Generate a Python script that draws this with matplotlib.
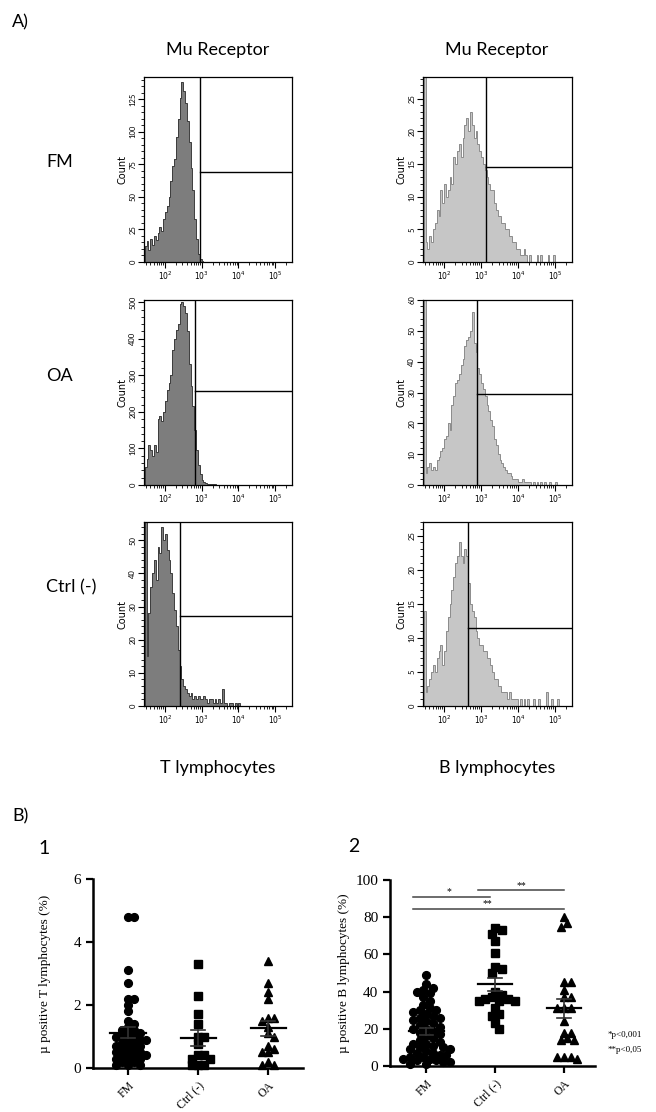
import numpy as np
import matplotlib
matplotlib.use('Agg')
import matplotlib.pyplot as plt
from matplotlib.ticker import MultipleLocator, LogLocator, NullFormatter, FixedLocator, FixedFormatter

W, H = 656, 1112

# ---- flow histograms: counts per 0.05-decade bin, first bin starts at 10^1.45
bin_start = 1.45
bin_width = 0.05

t_fm = [12, 16, 9, 18, 13, 20, 17, 22, 27, 24, 33, 38, 43, 50, 62, 74, 79, 96, 110, 126,
        138, 131, 122, 108, 92, 72, 55, 33, 18, 6, 2, 1, 0]
b_fm = [40, 3, 2, 4, 3, 5, 6, 8, 7, 11, 9, 12, 10, 11, 13, 12, 16, 15, 17, 18,
        16, 19, 21, 22, 20, 23, 21, 19, 20, 18, 17, 16, 15, 14, 13, 12, 11, 11, 9, 8,
        7, 7, 6, 6, 5, 5, 4, 4, 3, 3, 2, 2, 1, 1, 2, 1, 0, 1, 0, 0,
        0, 1, 0, 1, 0, 0, 0, 1, 0, 0, 1]
t_oa = [50, 70, 110, 95, 80, 110, 90, 180, 190, 175, 200, 230, 260, 280, 300, 370, 400, 425, 440, 495,
        500, 490, 470, 420, 330, 270, 215, 150, 95, 55, 30, 15, 8, 5, 4, 3, 2, 3, 2, 1, 0]
b_oa = [80, 4, 6, 7, 5, 6, 5, 8, 9, 11, 12, 15, 16, 20, 18, 26, 29, 33, 34, 36,
        39, 41, 45, 47, 48, 50, 56, 46, 43, 38, 36, 33, 31, 29, 26, 24, 21, 19, 15, 13,
        10, 8, 7, 6, 5, 4, 4, 3, 2, 2, 2, 1, 1, 2, 1, 1, 1, 1, 0, 1,
        0, 1, 0, 1, 0, 1, 0, 0, 1, 0, 0, 1]
t_ctrl = [60, 15, 28, 36, 40, 44, 38, 48, 46, 54, 50, 52, 47, 44, 40, 34, 29, 24, 17, 12,
          8, 6, 5, 4, 3, 4, 2, 3, 2, 3, 2, 2, 3, 2, 1, 2, 2, 1, 2, 1,
          2, 1, 5, 1, 1, 0, 1, 1, 0, 1, 0, 1]
b_ctrl = [14, 2, 3, 4, 5, 6, 5, 7, 8, 9, 6, 8, 11, 13, 15, 17, 19, 21, 22, 24,
          22, 21, 23, 22, 18, 15, 14, 13, 11, 10, 9, 9, 8, 8, 7, 7, 6, 5, 4, 4,
          3, 3, 2, 2, 2, 1, 2, 1, 1, 1, 1, 0, 1, 0, 1, 0, 1, 0, 0, 1,
          0, 0, 1, 0, 0, 0, 2, 0, 0, 1, 0, 0, 1]

# gates: (vertical gate position in log10 units, horizontal gate count)
gate_t_fm, gate_b_fm = (2.95, 69), (3.14, 14.5)
gate_t_oa, gate_b_oa = (2.82, 257), (2.90, 29.5)
gate_t_ctrl, gate_b_ctrl = (2.40, 27), (2.66, 11.5)

# y-axis top, major step, minor step
ymax_t = [142, 506, 55.5]
ymax_b = [28.3, 60, 27]
ystep_t = [(25, 5), (100, 20), (10, 2)]
ystep_b = [(5, 1), (10, 2), (5, 1)]

row_names = ['FM', 'OA', 'Ctrl (-)']

# ---- percentage data (panel B)
groups = ['FM', 'Ctrl (-)', 'OA']
t_pos_fm = [4.8, 4.8, 3.1, 2.7, 2.2, 2.2, 2.0, 1.8, 1.5, 1.4, 1.3, 1.2, 1.2, 1.1, 1.1, 1.0,
            1.0, 1.0, 0.9, 0.9, 0.9, 0.8, 0.8, 0.7, 0.7, 0.7, 0.6, 0.6, 0.5, 0.5, 0.5,
            0.4, 0.4, 0.4, 0.3, 0.3, 0.3, 0.2, 0.2, 0.1, 0.1, 0.1]
t_pos_ctrl = [3.3, 2.3, 1.7, 1.4, 1.0, 1.0, 0.75, 0.4, 0.4, 0.3, 0.3, 0.1, 0.1, 0.1]
t_pos_oa = [3.4, 2.7, 2.4, 2.2, 1.6, 1.5, 1.6, 1.3, 1.1, 1.0, 0.7, 0.6, 0.5, 0.5,
            0.2, 0.1, 0.1]
b_pos_fm = [49, 44, 42, 41, 40, 39, 37, 35, 33, 31, 30, 30, 29, 28, 27, 26, 26, 25, 24, 23,
            22, 21, 20, 20, 19, 18, 17, 16, 15, 14, 13, 12, 12, 11, 10, 10, 9, 9, 8, 7,
            7, 6, 6, 5, 5, 4, 4, 3, 3, 2, 2, 1, 1]
b_pos_ctrl = [74, 73, 71, 67, 61, 53, 52, 50, 40, 38, 37, 36, 36, 35, 35, 35, 31, 28, 27, 23, 20]
b_pos_oa = [80, 77, 75, 45, 45, 41, 37, 37, 31, 31, 31, 24, 18, 18, 15, 14, 14, 5, 5, 5, 4]

# significance brackets: (line start, line end, height, label, label x)
b_sig = [(-0.2, 0.93, 91, '*', 0.32), (0.75, 2.0, 94.5, '**', 1.38), (-0.2, 2.0, 84.5, '**', 0.88)]


def box(x0, y0, x1, y1):
    return [x0 / W, 1 - y1 / H, (x1 - x0) / W, (y1 - y0) / H]


def flow_hist(ax, counts, gate, ymax, steps, fill, edge):
    edges = 10 ** (bin_start + bin_width * np.arange(len(counts) + 1))
    ax.stairs(counts, edges, fill=True, color=fill, lw=0)
    ax.stairs(counts, edges, color=edge, lw=0.7)
    xlo, xhi = 10 ** 1.43, 10 ** 5.46
    ax.set_xscale('log')
    ax.set_xlim(xlo, xhi)
    ax.set_ylim(0, ymax)
    gx = 10 ** gate[0]
    ax.plot([gx, gx], [0, ymax], color='black', lw=1)
    ax.plot([gx, xhi], [gate[1], gate[1]], color='black', lw=1)
    ax.xaxis.set_major_locator(FixedLocator([1e2, 1e3, 1e4, 1e5]))
    ax.xaxis.set_major_formatter(FixedFormatter(['$10^2$', '$10^3$', '$10^4$', '$10^5$']))
    ax.xaxis.set_minor_locator(LogLocator(base=10, subs=np.arange(2, 10)))
    ax.xaxis.set_minor_formatter(NullFormatter())
    ax.yaxis.set_major_locator(MultipleLocator(steps[0]))
    ax.yaxis.set_minor_locator(MultipleLocator(steps[1]))
    ax.tick_params(which='major', length=4, width=0.8, labelsize=5.5, pad=1.5)
    ax.tick_params(which='minor', length=2.2, width=0.6)
    for lab in ax.get_yticklabels():
        lab.set_rotation(90)
        lab.set_va('center')
    ax.set_ylabel('Count', fontsize=7, family='DejaVu Sans', labelpad=1)
    for s in ax.spines.values():
        s.set_linewidth(0.9)


plt.rcParams['font.family'] = ['Lato', 'DejaVu Sans']

fig = plt.figure(figsize=(W / 100, H / 100), dpi=100)

t_counts = [t_fm, t_oa, t_ctrl]
b_counts = [b_fm, b_oa, b_ctrl]
t_gates = [gate_t_fm, gate_t_oa, gate_t_ctrl]
b_gates = [gate_b_fm, gate_b_oa, gate_b_ctrl]
rows_y = [(77, 262), (300, 485), (522, 706)]
label_y = [162, 376, 587]

for r in range(3):
    y0, y1 = rows_y[r]
    axl = fig.add_axes(box(144, y0, 292, y1))
    flow_hist(axl, t_counts[r], t_gates[r], ymax_t[r], ystep_t[r], '#7d7d7d', '#3c3c3c')
    axr = fig.add_axes(box(423, y0, 572, y1))
    flow_hist(axr, b_counts[r], b_gates[r], ymax_b[r], ystep_b[r], '#c6c6c6', '#8c8c8c')
    fig.text(46 / W, 1 - label_y[r] / H, row_names[r], fontsize=13, va='center', ha='left')

fig.text(12 / W, 1 - 22 / H, 'A)', fontsize=13, va='center', ha='left')
fig.text(218 / W, 1 - 50 / H, 'Mu Receptor', fontsize=13, va='center', ha='center')
fig.text(497 / W, 1 - 50 / H, 'Mu Receptor', fontsize=13, va='center', ha='center')
fig.text(218 / W, 1 - 768 / H, 'T lymphocytes', fontsize=13, va='center', ha='center')
fig.text(497 / W, 1 - 768 / H, 'B lymphocytes', fontsize=13, va='center', ha='center')
fig.text(12 / W, 1 - 816 / H, 'B)', fontsize=13, va='center', ha='left')
fig.text(38 / W, 1 - 848 / H, '1', fontsize=14, va='center', ha='left')
fig.text(348 / W, 1 - 847 / H, '2', fontsize=14, va='center', ha='left')


def swarm(ax, xc, vals, sep, step):
    # spread close values sideways; markers may overlap a little, as in Prism
    trans = ax.transData
    p0 = trans.transform((0, 0))
    sx = trans.transform((1, 0))[0] - p0[0]
    sy = trans.transform((0, 1))[1] - p0[1]
    vals = np.asarray(vals, float)
    order = np.argsort(-vals)
    placed = []
    xs = np.zeros(len(vals))
    cands = [0.0]
    for k in range(1, 40):
        cands += [k * step, -k * step]
    for i in order:
        py = vals[i] * sy
        for c in cands:
            if all((c - qx) ** 2 + (py - qy) ** 2 >= sep ** 2 for qx, qy in placed):
                placed.append((c, py))
                xs[i] = xc + c / sx
                break
    return xs


def dot_plot(ax, data, markers, xlim, ylim, ystep, ylabel, sep, step, labelpad):
    ax.set_xlim(*xlim)
    ax.set_ylim(*ylim)
    for k, vals in enumerate(data):
        xs = swarm(ax, k, vals, sep, step)
        ax.plot(xs, vals, linestyle='none', marker=markers[k], ms=5.6, color='black',
                clip_on=False, zorder=3)
        m = np.mean(vals)
        se = np.std(vals, ddof=1) / np.sqrt(len(vals))
        ax.plot([k - 0.25, k + 0.25], [m, m], color='black', lw=1.6, zorder=4)
        ax.plot([k, k], [m - se, m + se], color='#333333', lw=1.2, zorder=4)
        ax.plot([k - 0.1, k + 0.1], [m + se, m + se], color='#333333', lw=1.2, zorder=4)
        ax.plot([k - 0.1, k + 0.1], [m - se, m - se], color='#333333', lw=1.2, zorder=4)
    for s in ['top', 'right']:
        ax.spines[s].set_visible(False)
    for s in ['left', 'bottom']:
        ax.spines[s].set_linewidth(1.8)
    ax.set_xticks(range(len(groups)))
    ax.set_xticklabels(groups, rotation=45, ha='right', rotation_mode='anchor',
                       family='Liberation Serif', fontsize=8.5)
    ax.yaxis.set_major_locator(MultipleLocator(ystep))
    ax.tick_params(axis='both', width=1.6, length=5, direction='out')
    ax.tick_params(axis='y', labelsize=11)
    for lab in ax.get_yticklabels():
        lab.set_family('Liberation Serif')
    ax.set_ylabel(ylabel, family='Liberation Serif', fontsize=9.5, labelpad=labelpad)


ax1 = fig.add_axes(box(93, 879, 303, 1068))
dot_plot(ax1, [t_pos_fm, t_pos_ctrl, t_pos_oa], ['o', 's', '^'], (-0.5, 2.5), (0, 6), 2,
         'µ positive T lymphocytes (%)', 5.5, 3.0, 16)

ax2 = fig.add_axes(box(390, 880, 595, 1066))
dot_plot(ax2, [b_pos_fm, b_pos_ctrl, b_pos_oa], ['o', 's', '^'], (-0.53, 2.45), (0, 100), 20,
         'µ positive B lymphocytes (%)', 6.0, 3.3, 4)
for x0, x1, h, lab, lx in b_sig:
    ax2.plot([x0, x1], [h, h], color='#444444', lw=1.1, clip_on=False)
    ax2.text(lx, h + 0.3, lab, ha='center', va='bottom', fontsize=7,
             family='Liberation Serif')

fig.text(608 / W, 1 - 1035 / H, '*p<0,001', fontsize=6.5, family='Liberation Serif', va='center')
fig.text(608 / W, 1 - 1050 / H, '**p<0,05', fontsize=6.5, family='Liberation Serif', va='center')

fig.savefig('out.png', dpi=100)
